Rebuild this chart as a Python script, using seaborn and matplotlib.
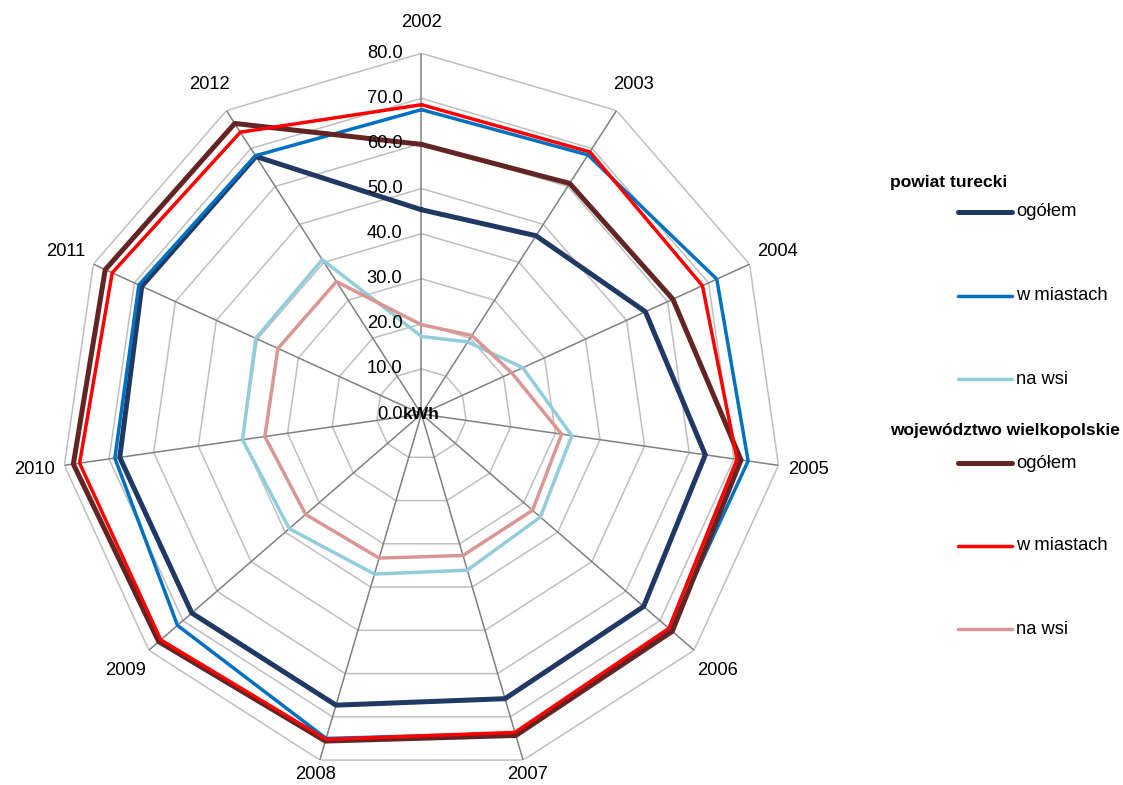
import numpy as np
import matplotlib
matplotlib.use("Agg")
import matplotlib.pyplot as plt
import matplotlib.transforms as mtransforms
from matplotlib.lines import Line2D
import seaborn as sns

years = ["2002", "2003", "2004", "2005", "2006", "2007",
         "2008", "2009", "2010", "2011", "2012"]

# powiat turecki
pt_total = [45.3, 47.0, 54.6, 63.6, 65.2, 65.8, 67.3, 67.4, 67.6, 68.2, 67.9]
pt_city = [67.5, 68.3, 72.0, 73.2, 73.0, 73.8, 75.0, 71.6, 68.7, 68.9, 68.1]
pt_rural = [17.2, 19.0, 24.7, 33.7, 34.9, 36.1, 37.0, 38.8, 40.1, 40.4, 40.7]
# województwo wielkopolskie
wv_total = [59.8, 60.8, 61.3, 71.6, 73.6, 74.3, 75.6, 77.1, 78.0, 77.1, 76.6]
wv_city = [68.6, 69.1, 68.5, 70.7, 72.6, 73.6, 75.2, 76.5, 76.6, 75.4, 74.3]
wv_rural = [19.8, 20.7, 22.0, 31.4, 32.6, 32.7, 33.3, 34.0, 35.1, 35.0, 34.9]

r_ticks = [0, 10, 20, 30, 40, 50, 60, 70, 80]

series = [
    ("ogółem", pt_total, "#1F3864", 3.6),
    ("w miastach", pt_city, "#0070C0", 2.5),
    ("na wsi", pt_rural, "#92CDDC", 2.5),
    ("ogółem", wv_total, "#632523", 3.6),
    ("w miastach", wv_city, "#FF0000", 2.5),
    ("na wsi", wv_rural, "#D99694", 2.5),
]

sns.set_theme(style="white")
plt.rcParams["font.family"] = ["Liberation Sans", "DejaVu Sans"]
plt.rcParams["text.color"] = "black"

fig = plt.figure(figsize=(11.23, 7.85), dpi=100)
ax = fig.add_axes([0.0541, 0.0131, 0.6424, 0.919], projection="polar")
ax.set_theta_zero_location("N")
ax.set_theta_direction(-1)
ax.set_ylim(0, 80)
ax.grid(False)
ax.spines["polar"].set_visible(False)
ax.set_xticks([])
ax.set_yticks([])
ax.set_facecolor("white")

n = len(years)
theta = np.arange(n) * 2 * np.pi / n
theta_c = np.append(theta, 2 * np.pi)

# polygon grid
for r in r_ticks[1:]:
    ax.plot(theta_c, [r] * (n + 1), color="#BFBFBF", lw=1.1, zorder=1)
for t in theta:
    ax.plot([t, t], [0, 80], color="#808080", lw=1.1, zorder=1.5)

# series
for label, vals, color, lw in series:
    sns.lineplot(x=theta_c, y=list(vals) + [vals[0]], ax=ax, color=color,
                 lw=lw, sort=False, legend=False, zorder=3)
ax.set_xlabel("")
ax.set_ylabel("")

# category labels (the two bottom ones sit a bit closer, as in the original)
for t, y in zip(theta, years):
    r_lab = 83.4 if y in ("2007", "2008") else 86.8
    ax.text(t, r_lab, y, ha="center", va="center", fontsize=13.2,
            color="black", clip_on=False)

# radial labels
off = mtransforms.offset_copy(ax.transData, fig=fig, x=-19, y=0, units="dots")
for r in r_ticks:
    ax.text(0, r, f"{r:.1f}", transform=off, ha="right", va="center",
            fontsize=13.2, color="black")
ax.text(0, 0, "kWh", ha="center", va="center", fontsize=12.5,
        fontweight="bold", color="black", zorder=5)

# legend
W, H = 1123, 785
def fx(px):
    return px / W
def fy(py):
    return 1 - py / H

fig.text(fx(890), fy(183), "powiat turecki", fontsize=12.5,
         fontweight="bold", va="center", ha="left", color="black")
fig.text(fx(890), fy(431), "województwo wielkopolskie", fontsize=12.5,
         fontweight="bold", va="center", ha="left", color="black")
ys = [212, 296, 379, 463, 546, 629]
for (label, vals, color, lw), y in zip(series, ys):
    fig.add_artist(Line2D([fx(958), fx(1012)], [fy(y), fy(y)], color=color,
                          lw=lw, solid_capstyle="round",
                          transform=fig.transFigure))
    fig.text(fx(1016), fy(y), label, fontsize=13.2, va="center", ha="left",
             color="black")

fig.savefig("out.png", dpi=100, facecolor="white")
